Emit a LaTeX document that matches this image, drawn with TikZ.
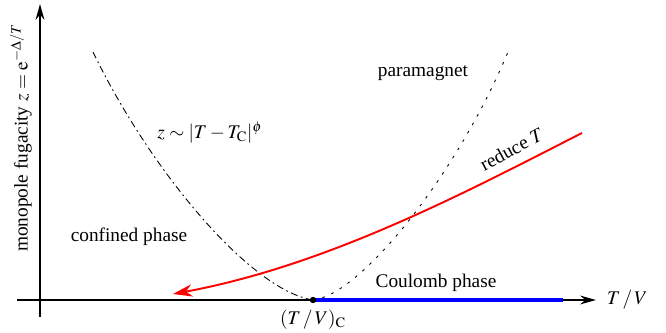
\documentclass[tikz,border=0pt]{standalone}
\usepackage{mathptmx}
\usepackage{fontspec}
\setmainfont{Liberation Serif}
\usetikzlibrary{arrows.meta}

\begin{document}
\begin{tikzpicture}[x=0.02cm,y=-0.02cm,every node/.style={font=\fontsize{11}{13}\selectfont}]
\useasboundingbox (0,0) rectangle (666,333);
% axes
\coordinate (xstart) at (17,300);
\coordinate (xend) at (596,300);
\coordinate (ystart) at (40,317);
\coordinate (yend) at (40,4);
\draw[line width=1.1pt,-{Stealth[length=9pt,width=5pt]}] (xstart) -- (xend);
\draw[line width=1.1pt,-{Stealth[length=9pt,width=5pt]}] (ystart) -- (yend);
\node[anchor=west] (xlabel) at (601,300) {$T\,/\,V$};
\node[rotate=90] (ylabel) at (21,138) {monopole fugacity $z=\mathrm{e}^{-\Delta/T}$};
% critical point and Coulomb line
\coordinate (crit) at (313,300);
\coordinate (cend) at (563,300);
\draw[blue,line width=2.8pt] (crit) -- (cend);
\fill (crit) circle (3.2);
\node[below] (critlabel) at (313,304) {$(T\,/\,V)_{\mathrm{C}}$};
% crossover lines
\draw[line width=0.5pt,dash pattern=on 4pt off 2pt on 1pt off 2pt] (93,52) .. controls (150,170) and (250,290) .. (crit);
\draw[line width=0.5pt,dash pattern=on 1.5pt off 4pt] (crit) .. controls (360,295) and (455,178) .. (508,52);
% flow
\draw[red,line width=1.1pt,-{Stealth[length=11pt,width=7pt]}] (582,133) .. controls (470,190) and (330,265) .. (173,294);
\node[rotate=28] (flowlabel) at (512,149) {reduce $T$};
% phases
\node (para) at (423,73) {paramagnet};
\node (conf) at (129,237) {confined phase};
\node (coul) at (436,283) {Coulomb phase};
\node (scaling) at (210,133) {$z\sim|T-T_{\mathrm{C}}|^{\phi}$};
\end{tikzpicture}
\end{document}
